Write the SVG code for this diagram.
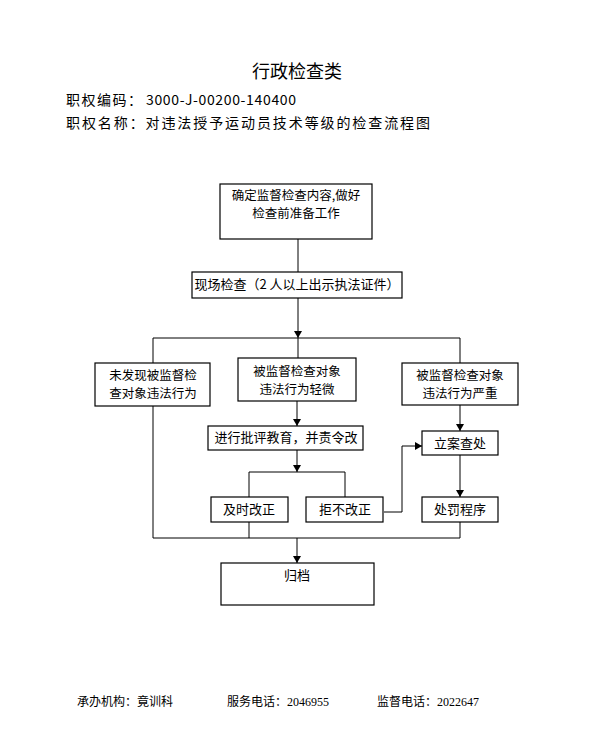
<svg xmlns="http://www.w3.org/2000/svg" width="591" height="739" viewBox="0 0 591 739">
<style>
.box{fill:#fff;stroke:#000;stroke-width:1.2}
.ln{fill:none;stroke:#000;stroke-width:1}
.t{font-family:"Noto Sans CJK SC","Liberation Sans",sans-serif;font-size:13px;fill:#000;text-anchor:middle}
.t2{font-family:"Noto Sans CJK SC","Liberation Sans",sans-serif;font-size:12.5px;fill:#000;text-anchor:middle}
.h{font-family:"Noto Sans CJK SC","Liberation Sans",sans-serif;font-size:14px;fill:#000}
.f{font-family:"Liberation Serif","Noto Sans CJK SC",serif;font-size:12px;fill:#000}
</style>
<defs>
<marker id="ah" markerWidth="7" markerHeight="8" refX="7" refY="4" orient="auto" markerUnits="userSpaceOnUse">
<path d="M0,0 L7,4 L0,8 Z" fill="#000"/>
</marker>
</defs>
<rect width="591" height="739" fill="#fff"/>
<g id="header">
<text x="297" y="78" font-family="Noto Sans CJK SC, sans-serif" font-size="18" text-anchor="middle">行政检查类</text>
<text class="h" x="66" y="105" letter-spacing="1.5">职权编码：</text>
<text class="h" x="146" y="105" font-family="Liberation Sans, sans-serif" textLength="150" lengthAdjust="spacing">3000-J-00200-140400</text>
<text class="h" x="66" y="128" textLength="364" lengthAdjust="spacing">职权名称：对违法授予运动员技术等级的检查流程图</text>
</g>
<g id="connectors">
<path class="ln" d="M298,239 V272"/>
<path class="ln" d="M298,298 V338" marker-end="url(#ah)"/>
<path class="ln" d="M153,363 V338 H460 V363 M298,338 V358"/>
<path class="ln" d="M297,401 V426" marker-end="url(#ah)"/>
<path class="ln" d="M460,405 V431" marker-end="url(#ah)"/>
<path class="ln" d="M297,450 V472" marker-end="url(#ah)"/>
<path class="ln" d="M249,497 V472 H345 V497"/>
<path class="ln" d="M384,512 H402 V446 H422" marker-end="url(#ah)"/>
<path class="ln" d="M460,455 V497" marker-end="url(#ah)"/>
<path class="ln" d="M153,406 V538 H460 V522 M249,522 V538"/>
<path class="ln" d="M297,538 V563" marker-end="url(#ah)"/>
</g>
<g id="n1"><rect class="box" x="220" y="184" width="152" height="55"/>
<text class="t2" x="296" y="200">确定监督检查内容,做好</text><text class="t2" x="296" y="218">检查前准备工作</text></g>
<g id="n2"><rect class="box" x="192" y="272" width="210" height="26"/>
<text class="t" x="297" y="289">现场检查（2 人以上出示执法证件）</text></g>
<g id="n3"><rect class="box" x="95" y="363" width="115" height="43"/>
<text class="t2" x="153" y="380">未发现被监督检</text><text class="t2" x="153" y="398">查对象违法行为</text></g>
<g id="n4"><rect class="box" x="238" y="358" width="118" height="43"/>
<text class="t2" x="297" y="376">被监督检查对象</text><text class="t2" x="297" y="394">违法行为轻微</text></g>
<g id="n5"><rect class="box" x="402" y="363" width="116" height="42"/>
<text class="t2" x="460" y="380">被监督检查对象</text><text class="t2" x="460" y="398">违法行为严重</text></g>
<g id="n6"><rect class="box" x="208" y="426" width="155" height="24"/>
<text class="t" x="286" y="442">进行批评教育，并责令改</text></g>
<g id="n7"><rect class="box" x="422" y="431" width="76" height="24"/>
<text class="t" x="460" y="448">立案查处</text></g>
<g id="n8"><rect class="box" x="211" y="497" width="77" height="25"/>
<text class="t" x="249" y="514">及时改正</text></g>
<g id="n9"><rect class="box" x="306" y="497" width="77" height="25"/>
<text class="t" x="345" y="514">拒不改正</text></g>
<g id="n10"><rect class="box" x="422" y="497" width="76" height="25"/>
<text class="t" x="460" y="514">处罚程序</text></g>
<g id="n11"><rect class="box" x="221" y="563" width="153" height="42"/>
<text class="t" x="297" y="580">归档</text></g>
<g id="footer">
<text class="f" x="77" y="706">承办机构：竟训科</text>
<text class="f" x="227" y="706">服务电话：2046955</text>
<text class="f" x="377" y="706">监督电话：2022647</text>
</g>
</svg>
